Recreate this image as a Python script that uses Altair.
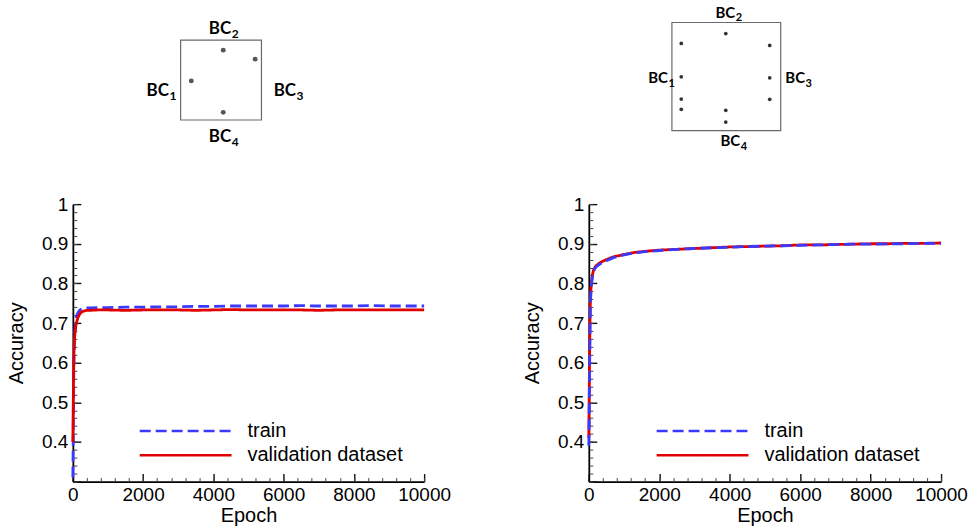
import altair as alt
import pandas as pd

# ---------------- data ----------------
series_names = ["train", "validation dataset"]

epochs_left = [0, 10, 20, 30, 40, 60, 80, 100, 150, 200, 250, 300, 400, 500, 700, 1000,
               1500, 2000, 2500, 3000, 3500, 4000, 4500, 5000, 5500, 6000, 6500, 7000,
               7500, 8000, 8500, 9000, 9500, 10000]
train_left = [0.31, 0.40, 0.52, 0.60, 0.645, 0.685, 0.705, 0.716, 0.727, 0.733, 0.736, 0.737,
              0.738, 0.738, 0.739, 0.739, 0.740, 0.740, 0.741, 0.741, 0.742, 0.742, 0.743,
              0.743, 0.743, 0.743, 0.744, 0.743, 0.743, 0.743, 0.744, 0.743, 0.743, 0.743]
valid_left = [0.40, 0.48, 0.56, 0.62, 0.65, 0.675, 0.69, 0.70, 0.715, 0.723, 0.728, 0.730,
              0.732, 0.732, 0.733, 0.733, 0.732, 0.733, 0.733, 0.733, 0.732, 0.733, 0.734,
              0.733, 0.733, 0.733, 0.733, 0.732, 0.733, 0.733, 0.733, 0.733, 0.733, 0.733]

epochs_right = [0, 10, 20, 30, 40, 60, 80, 100, 130, 170, 200, 300, 400, 500, 700, 1000,
                1300, 1600, 2000, 2500, 3000, 3500, 4000, 4500, 5000, 5500, 6000, 6500,
                7000, 7500, 8000, 8500, 9000, 9500, 10000]
train_right = [0.39, 0.45, 0.55, 0.64, 0.72, 0.78, 0.80, 0.815, 0.829, 0.837, 0.841, 0.848,
               0.853, 0.857, 0.865, 0.872, 0.877, 0.880, 0.883, 0.886, 0.888, 0.890, 0.891,
               0.893, 0.894, 0.895, 0.896, 0.897, 0.898, 0.899, 0.899, 0.900, 0.900, 0.901, 0.901]
valid_right = [0.41, 0.50, 0.60, 0.68, 0.74, 0.785, 0.805, 0.82, 0.832, 0.840, 0.844, 0.851,
               0.856, 0.860, 0.867, 0.873, 0.878, 0.881, 0.884, 0.886, 0.888, 0.890, 0.892,
               0.893, 0.894, 0.895, 0.897, 0.897, 0.898, 0.899, 0.900, 0.900, 0.901, 0.901, 0.902]

x_major = [0, 2000, 4000, 6000, 8000, 10000]
x_minor = [0, 400, 800, 1200, 1600, 2000, 2400, 2800, 3200, 3600, 4000, 4400, 4800, 5200,
           5600, 6000, 6400, 6800, 7200, 7600, 8000, 8400, 8800, 9200, 9600, 10000]
y_labels = [0.4, 0.5, 0.6, 0.7, 0.8, 0.9, 1.0]
y_major = [0.3, 0.4, 0.5, 0.6, 0.7, 0.8, 0.9, 1.0]
y_minor = [0.3, 0.32, 0.34, 0.36, 0.38, 0.4, 0.42, 0.44, 0.46, 0.48, 0.5, 0.52, 0.54, 0.56,
           0.58, 0.6, 0.62, 0.64, 0.66, 0.68, 0.7, 0.72, 0.74, 0.76, 0.78, 0.8, 0.82, 0.84,
           0.86, 0.88, 0.9, 0.92, 0.94, 0.96, 0.98, 1.0]

# sensor-layout diagrams (unit-square coordinates)
bc_main = ["BC", "BC", "BC", "BC"]
bc_sub = ["1", "2", "3", "4"]
left_dot_u = [0.527, 0.922, 0.132, 0.527]
left_dot_v = [0.875, 0.762, 0.490, 0.096]
left_lab_u = [-0.144, 0.626, 1.428, 0.626]
left_lab_v = [0.304, 1.075, 0.304, -0.271]
right_dot_u = [0.495, 0.086, 0.899, 0.086, 0.899, 0.086, 0.899, 0.086, 0.495, 0.495]
right_dot_v = [0.898, 0.806, 0.788, 0.498, 0.489, 0.292, 0.290, 0.197, 0.188, 0.080]
right_lab_u = [-0.037, 0.582, 1.224, 0.628]
right_lab_v = [0.437, 1.046, 0.437, -0.141]

BLUE = "#3a3aff"
RED = "#e00000"
FONT = "Liberation Sans"
H = 278


def panel(epochs, train, valid, dot_u, dot_v, lab_u, lab_v, W, xr, yr,
          fsize, dsize, dcolor, legend_x, blue_on_top):
    if blue_on_top:
        df = pd.DataFrame({
            "Epoch": list(epochs) * 2,
            "Accuracy": list(valid) + list(train),
            "series": [series_names[1]] * len(valid) + [series_names[0]] * len(train),
        })
    else:
        df = pd.DataFrame({
            "Epoch": list(epochs) * 2,
            "Accuracy": list(train) + list(valid),
            "series": [series_names[0]] * len(train) + [series_names[1]] * len(valid),
        })
    xs = alt.Scale(domain=[0, 10000], nice=False, zero=False)
    ys = alt.Scale(domain=[0.3, 1.0], nice=False, zero=False)

    leg = dict(orient="none", legendX=legend_x, legendY=217.4,
               symbolType="stroke", symbolSize=8464, symbolStrokeWidth=2.6,
               clipHeight=20, rowPadding=4.3, labelFontSize=20, labelFont=FONT,
               labelColor="black", labelOffset=14.5, padding=0, title=None)

    lines = alt.Chart(df).mark_line(strokeWidth=2.8).encode(
        x=alt.X("Epoch:Q", scale=xs,
                axis=alt.Axis(values=x_major, format="d", ticks=False, tickSize=0,
                              labelPadding=4, labelFontSize=19, titleFontSize=20,
                              labelFlush=False, title="Epoch", titleY=24.5,
                              titleBaseline="top", domainWidth=1.8)),
        y=alt.Y("Accuracy:Q", scale=ys,
                axis=alt.Axis(values=y_labels, format=".1~f", ticks=False, tickSize=0,
                              labelPadding=5, labelFontSize=19, titleFontSize=20,
                              labelFlush=False, title="Accuracy", titleX=-46,
                              titleY=H / 2, titleBaseline="bottom", titleAngle=-90,
                              domainWidth=1.8)),
        color=alt.Color("series:N",
                        scale=alt.Scale(domain=series_names, range=[BLUE, RED]),
                        legend=alt.Legend(**leg)),
        strokeDash=alt.StrokeDash("series:N",
                                  scale=alt.Scale(domain=series_names,
                                                  range=[[11, 5], [1, 0]]),
                                  legend=alt.Legend(**leg)),
    )

    # inward major / minor ticks (axes moved onto the plot edges)
    major = alt.Chart(df).mark_point(opacity=0).encode(
        x=alt.X("Epoch:Q", scale=xs,
                axis=alt.Axis(orient="top", offset=-H, values=x_major, labels=False,
                              domain=False, ticks=True, tickSize=8, tickWidth=1.4,
                              tickColor="#111111", title=None)),
        y=alt.Y("Accuracy:Q", scale=ys,
                axis=alt.Axis(orient="right", offset=-W, values=y_major, labels=False,
                              domain=False, ticks=True, tickSize=8, tickWidth=1.4,
                              tickColor="#111111", title=None)),
    )
    minor = alt.Chart(df).mark_point(opacity=0).encode(
        x=alt.X("Epoch:Q", scale=xs,
                axis=alt.Axis(orient="top", offset=-H, values=x_minor, labels=False,
                              domain=False, ticks=True, tickSize=4, tickWidth=1,
                              tickColor="#444444", title=None)),
        y=alt.Y("Accuracy:Q", scale=ys,
                axis=alt.Axis(orient="right", offset=-W, values=y_minor, labels=False,
                              domain=False, ticks=True, tickSize=4, tickWidth=1,
                              tickColor="#444444", title=None)),
    )

    du = alt.Scale(domain=[0, 1], range=xr, nice=False, zero=False)
    dv = alt.Scale(domain=[0, 1], range=yr, nice=False, zero=False)
    box_df = pd.DataFrame({"u0": [0], "u1": [1], "v0": [0], "v1": [1]})
    box = alt.Chart(box_df).mark_rect(fillOpacity=0, stroke="#6a6a6a", strokeWidth=1.2).encode(
        x=alt.X("u0:Q", scale=du, axis=None), x2="u1:Q",
        y=alt.Y("v0:Q", scale=dv, axis=None), y2="v1:Q",
    )
    dots = alt.Chart(pd.DataFrame({"u": dot_u, "v": dot_v})).mark_circle(
        size=dsize, color=dcolor, opacity=1).encode(
        x=alt.X("u:Q", scale=du, axis=None),
        y=alt.Y("v:Q", scale=dv, axis=None),
    )
    lab_df = pd.DataFrame({"u": lab_u, "v": lab_v, "main": bc_main, "sub": bc_sub})
    labs = alt.Chart(lab_df).mark_text(align="right", baseline="alphabetic",
                                       font="Lato", fontWeight="bold",
                                       fontSize=fsize, color="black").encode(
        x=alt.X("u:Q", scale=du, axis=None),
        y=alt.Y("v:Q", scale=dv, axis=None),
        text="main:N",
    )
    subs = alt.Chart(lab_df).mark_text(align="left", baseline="alphabetic",
                                       font="Lato", fontWeight="bold",
                                       fontSize=round(fsize * 0.72), dx=0.5,
                                       dy=fsize * 0.25, color="black").encode(
        x=alt.X("u:Q", scale=du, axis=None),
        y=alt.Y("v:Q", scale=dv, axis=None),
        text="sub:N",
    )

    return alt.layer(lines, major, minor, box, dots, labs, subs).resolve_scale(
        x="independent", y="independent"
    ).properties(width=W, height=H)


left = panel(epochs_left, train_left, valid_left, left_dot_u, left_dot_v,
             left_lab_u, left_lab_v, 352, [108, 189], [-84.3, -164.3], 17, 24,
             "#555555", 65.5, False)
right = panel(epochs_right, train_right, valid_right, right_dot_u, right_dot_v,
              right_lab_u, right_lab_v, 353, [83.3, 192.3], [-73.6, -182], 15, 14,
              "#333333", 66.5, True)

chart = alt.hconcat(left, right, spacing=165, bounds="flush").resolve_scale(
    x="independent", y="independent", color="independent", strokeDash="independent"
).resolve_legend(color="independent", strokeDash="independent").properties(
    padding={"left": 7, "top": 5, "right": 5, "bottom": 5},
    background="white",
).configure_view(strokeWidth=0).configure_axis(
    labelFont=FONT, titleFont=FONT, labelColor="black", titleColor="black",
    domainColor="black", tickColor="black", grid=False, titleFontWeight="normal"
)

chart.save("out.html", embed_options={"renderer": "svg", "actions": False})
